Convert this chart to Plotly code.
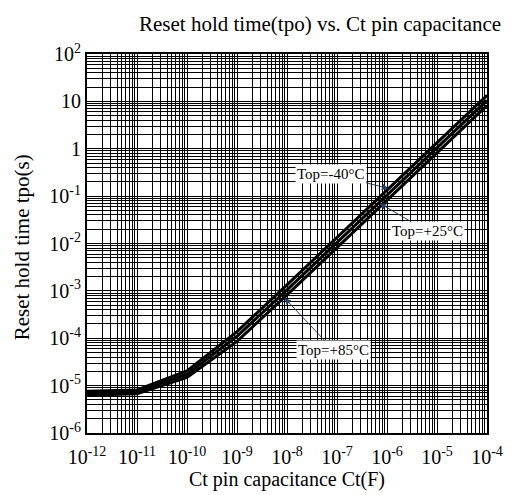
import plotly.graph_objects as go

# Data
ct = [1e-12, 1e-11, 1e-10, 1e-9, 1e-8, 1e-7, 1e-6, 1e-5, 1e-4]
tpo_m40 = [7.6e-6, 8.1e-6, 2.05e-5, 1.38e-4, 1.34e-3, 1.34e-2, 0.134, 1.34, 13.4]
tpo_p25 = [6.9e-6, 7.4e-6, 1.75e-5, 1.10e-4, 1.05e-3, 1.05e-2, 0.105, 1.05, 10.5]
tpo_p85 = [6.3e-6, 6.7e-6, 1.50e-5, 8.6e-5, 8.2e-4, 8.2e-3, 0.082, 0.82, 8.2]

x_tickvals = [1e-12, 1e-11, 1e-10, 1e-9, 1e-8, 1e-7, 1e-6, 1e-5, 1e-4]
x_ticktext = ["10<sup>-12</sup>", "10<sup>-11</sup>", "10<sup>-10</sup>", "10<sup>-9</sup>",
              "10<sup>-8</sup>", "10<sup>-7</sup>", "10<sup>-6</sup>", "10<sup>-5</sup>", "10<sup>-4</sup>"]
y_tickvals = [1e-6, 1e-5, 1e-4, 1e-3, 1e-2, 1e-1, 1, 10, 100]
y_ticktext = ["10<sup>-6</sup>", "10<sup>-5</sup>", "10<sup>-4</sup>", "10<sup>-3</sup>",
              "10<sup>-2</sup>", "10<sup>-1</sup>", "1", "10", "10<sup>2</sup>"]

x_minor = [m * 10.0 ** e for e in range(-12, -4) for m in range(2, 10)]
y_minor = [m * 10.0 ** e for e in range(-6, 2) for m in range(2, 10)]

FONT = "Liberation Serif, Times New Roman, serif"

W, H = 513, 495
L, R, T, B = 87, 26, 54, 62

fig = go.Figure()
for name, vals in [("Top=-40°C", tpo_m40), ("Top=+25°C", tpo_p25), ("Top=+85°C", tpo_p85)]:
    fig.add_trace(go.Scatter(x=ct, y=vals, mode="lines", name=name,
                             line=dict(color="black", width=3), showlegend=False))

axis_common = dict(
    type="log", showgrid=True, gridcolor="black", gridwidth=1.3,
    showline=True, linecolor="black", linewidth=2, mirror=True,
    ticks="", zeroline=False, ticklabeloverflow="allow", automargin=False,
    tickfont=dict(family=FONT, size=20, color="black"),
)

fig.update_xaxes(range=[-12, -4], tickvals=x_tickvals, ticktext=x_ticktext,
                 ticklabelstandoff=5,
                 minor=dict(tickvals=x_minor, showgrid=True, gridcolor="black", gridwidth=1, ticks=""),
                 title=dict(text="Ct pin capacitance Ct(F)", font=dict(family=FONT, size=20, color="black"),
                            standoff=4),
                 **axis_common)
fig.update_yaxes(range=[-6, 2], tickvals=y_tickvals, ticktext=y_ticktext,
                 minor=dict(tickvals=y_minor, showgrid=True, gridcolor="black", gridwidth=1, ticks=""),
                 **axis_common)

# y-axis title placed as rotated text
plot_w = W - L - R
fig.add_annotation(text="Reset hold time tpo(s)", xref="paper", yref="paper",
                   x=(22 - L) / plot_w, y=0.49, xanchor="center", yanchor="middle",
                   textangle=-90, showarrow=False,
                   font=dict(family=FONT, size=21, color="black"))

ann_font = dict(family=FONT, size=15, color="black")
# arrows pointing at each curve
fig.add_annotation(x=-5.97, y=-0.84, xref="x", yref="y", text="Top=-40°C", showarrow=True,
                   arrowhead=2, arrowsize=1.3, arrowwidth=1, ax=-58, ay=-15, bgcolor="white", font=ann_font)
fig.add_annotation(x=-6.15, y=-1.15, xref="x", yref="y", text="Top=+25°C", showarrow=True,
                   arrowhead=2, arrowsize=1.3, arrowwidth=1, ax=48, ay=28, bgcolor="white", font=ann_font)
fig.add_annotation(x=-8.05, y=-3.15, xref="x", yref="y", text="Top=+85°C", showarrow=True,
                   arrowhead=2, arrowsize=1.3, arrowwidth=1, ax=49, ay=52, bgcolor="white", font=ann_font)

fig.update_layout(
    width=W, height=H,
    margin=dict(l=L, r=R, t=T, b=B, autoexpand=False),
    paper_bgcolor="white", plot_bgcolor="white",
    title=dict(text="Reset hold time(tpo) vs. Ct pin capacitance", x=0.624, xanchor="center",
               y=0.953, yanchor="middle", font=dict(family=FONT, size=21, color="black")),
)

fig.write_html("out.html", config={"displayModeBar": False},
               post_script="document.body.style.margin='0';")
